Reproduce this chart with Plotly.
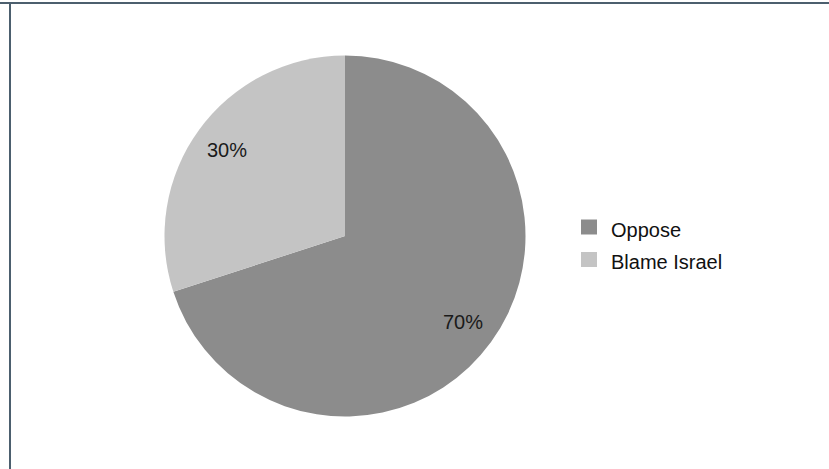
import math
import plotly.graph_objects as go

labels = ["Oppose", "Blame Israel"]
values = [70, 30]
colors = ["#8c8c8c", "#c4c4c4"]
text_labels = ["70%", "30%"]

W, H = 829, 469
cx, cy, r = 345, 236, 180.5
FONT = "Liberation Sans, Arial, Helvetica, sans-serif"

fig = go.Figure()
fig.add_trace(go.Pie(
    labels=labels, values=values, sort=False, direction="clockwise", rotation=0,
    marker=dict(colors=colors, line=dict(width=0)),
    textinfo="none", hoverinfo="label+percent", showlegend=False,
    domain=dict(x=[(cx - r) / W, (cx + r) / W], y=[1 - (cy + r) / H, 1 - (cy - r) / H]),
))

# slice labels at ~0.81 radius along each slice's mid-angle (clockwise from top)
total = sum(values)
start = 0.0
annotations = []
for v, t in zip(values, text_labels):
    ang = (start + v / 2) / total * 2 * math.pi
    start += v
    x = cx + 0.81 * r * math.sin(ang)
    y = cy - 0.81 * r * math.cos(ang)
    annotations.append(dict(x=x / W, y=1 - y / H, xref="paper", yref="paper",
                            text=t, showarrow=False, xanchor="center", yanchor="middle",
                            font=dict(family=FONT, size=20, color="#1a1a1a")))

# legend (swatch + text) built from labels / colors
shapes = [
    dict(type="line", xref="paper", yref="paper", x0=0, x1=1, y0=1 - 3 / H, y1=1 - 3 / H,
         line=dict(color="#4c5f6e", width=2)),
    dict(type="line", xref="paper", yref="paper", x0=10 / W, x1=10 / W, y0=0, y1=1 - 2 / H,
         line=dict(color="#4c5f6e", width=2)),
]
leg_x0, leg_y0, row_gap, sw = 581, 219.5, 32.5, 16
for i, (lab, col) in enumerate(zip(labels, colors)):
    y0 = leg_y0 + i * row_gap
    shapes.append(dict(type="rect", xref="paper", yref="paper",
                       x0=leg_x0 / W, x1=(leg_x0 + sw) / W,
                       y0=1 - y0 / H, y1=1 - (y0 + 15) / H,
                       fillcolor=col, line=dict(width=0)))
    annotations.append(dict(x=(leg_x0 + 28) / W, y=1 - (y0 + 10) / H, xref="paper", yref="paper",
                            text=lab, showarrow=False, xanchor="left", yanchor="middle",
                            font=dict(family=FONT, size=20, color="#111111")))

fig.update_layout(
    width=W, height=H,
    margin=dict(l=0, r=0, t=0, b=0),
    paper_bgcolor="white", plot_bgcolor="white",
    showlegend=False,
    annotations=annotations,
    shapes=shapes,
)

fig.write_html("out.html", config={"displayModeBar": False},
               post_script="document.body.style.margin='0px';")
